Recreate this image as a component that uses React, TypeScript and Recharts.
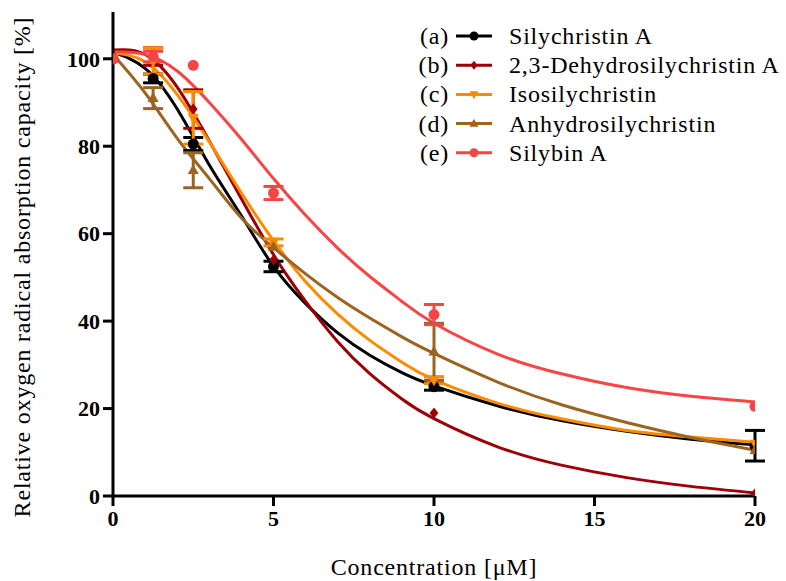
import React from 'react';
import { ComposedChart, Line, Scatter, ErrorBar, XAxis, YAxis } from 'recharts';

const curveX = [0, 1, 2, 3, 4, 5, 6, 7, 8, 9, 10, 12, 14, 16, 18, 20];
const silychristinFit = [101.5, 97.8, 88.5, 75.7, 64.1, 52.5, 44, 37.3, 32.2, 28.2, 25.2, 20.6, 17.2, 14.8, 13, 11.7];
const dehydroFit = [102, 101, 93.5, 81.2, 68, 55.2, 44.5, 35.3, 28, 22.2, 17.7, 11.2, 7, 4.2, 2.2, 0.7];
const isoFit = [101.3, 99.3, 91.8, 81, 69.3, 58.4, 49, 41.6, 35.6, 30.6, 26.6, 21.2, 17.6, 15, 13.5, 12.3];
const anhydroFit = [101, 92.2, 81.8, 72.6, 63.6, 56.8, 50.8, 45.4, 40.7, 36.4, 32.6, 26, 20.8, 16.8, 13.4, 10.5];
const silybinFit = [101.6, 101, 97.2, 90, 81.6, 72.6, 64.2, 56.7, 50.2, 44.5, 39.5, 32.4, 27.9, 24.8, 22.8, 21.5];

const pointX = [0, 1.25, 2.5, 5, 10, 20];
const silychristinPts = [100, 95.5, 80.5, 52.5, 25, 11.5];
const silychristinErr = [0, 1, 1.5, 1.2, 0.8, 3.5];
const dehydroPts = [100, 100.5, 88.5, 54, 19, 0.5];
const dehydroErr = [0, 2, 4.4, 0, 0, 0];
const isoPts = [100, 99.5, 86.5, 58, 26.5, 12];
const isoErr = [0, 3, 6, 0.8, 0.8, 0];
const anhydroPts = [100, 91, 74.5, 57, 33, 10.5];
const anhydroErr = [0, 2.4, 4, 0, 6.5, 0];
const silybinPts = [100, 100.5, 98.5, 69.3, 41.5, 20.5];
const silybinErr = [0, 1.2, 0, 1.5, 2.3, 0];

const xTicks = [0, 5, 10, 15, 20];
const yTicks = [0, 20, 40, 60, 80, 100];

const serif = 'Liberation Serif, Tinos, DejaVu Serif, Noto Serif, serif';

type Marker = 'circle' | 'diamond' | 'triangle' | 'triangleDown';

interface SeriesDef {
  key: string;
  tag: string;
  name: string;
  color: string;
  marker: Marker;
  fit: number[];
  pts: number[];
  err: number[];
}

const series: SeriesDef[] = [
  { key: 'a', tag: '(a)', name: 'Silychristin A', color: '#000000', marker: 'circle', fit: silychristinFit, pts: silychristinPts, err: silychristinErr },
  { key: 'b', tag: '(b)', name: '2,3-Dehydrosilychristin A', color: '#9c0006', marker: 'diamond', fit: dehydroFit, pts: dehydroPts, err: dehydroErr },
  { key: 'c', tag: '(c)', name: 'Isosilychristin', color: '#ff8a00', marker: 'triangleDown', fit: isoFit, pts: isoPts, err: isoErr },
  { key: 'd', tag: '(d)', name: 'Anhydrosilychristin', color: '#9b6420', marker: 'triangle', fit: anhydroFit, pts: anhydroPts, err: anhydroErr },
  { key: 'e', tag: '(e)', name: 'Silybin A', color: '#f74545', marker: 'circle', fit: silybinFit, pts: silybinPts, err: silybinErr },
];

function drawMarker(kind: Marker, cx: number, cy: number, color: string, s: number) {
  if (kind === 'circle') return <circle cx={cx} cy={cy} r={s} fill={color} />;
  if (kind === 'diamond')
    return <polygon points={`${cx},${cy - s} ${cx + s * 0.8},${cy} ${cx},${cy + s} ${cx - s * 0.8},${cy}`} fill={color} />;
  if (kind === 'triangle')
    return <polygon points={`${cx},${cy - s * 1.1} ${cx + s},${cy + s * 0.7} ${cx - s},${cy + s * 0.7}`} fill={color} />;
  return <polygon points={`${cx},${cy + s * 1.1} ${cx + s},${cy - s * 0.7} ${cx - s},${cy - s * 0.7}`} fill={color} />;
}

function Overlay() {
  const top = 36;
  const step = 29.2;
  const textProps = { fontFamily: serif, fontSize: 24, letterSpacing: 0.8, fill: '#000' };
  return (
    <svg width={786} height={581} style={{ position: 'absolute', left: 0, top: 0, pointerEvents: 'none' }}>
      {series.map((s, i) => {
        const y = top + i * step;
        return (
          <g key={s.key}>
            <text x={449} y={y} textAnchor="end" dominantBaseline="central" {...textProps}>
              {s.tag}
            </text>
            <line x1={456} x2={492} y1={y} y2={y} stroke={s.color} strokeWidth={3} />
            {drawMarker(s.marker, 474, y, s.color, 4.5)}
            <text x={509} y={y} dominantBaseline="central" {...textProps}>
              {s.name}
            </text>
          </g>
        );
      })}
      <text transform="translate(22, 267) rotate(-90)" textAnchor="middle" dominantBaseline="central" {...textProps}>
        Relative oxygen radical absorption capacity [%]
      </text>
      <text x={434} y={567} textAnchor="middle" dominantBaseline="central" {...textProps}>
        Concentration [μM]
      </text>
    </svg>
  );
}

export default function App() {
  return (
    <div style={{ position: 'absolute', left: 0, top: 0, width: 786, height: 581, background: '#fff' }}>
      <ComposedChart width={786} height={581} margin={{ top: 12, right: 31, bottom: 45, left: 53 }}>
        <XAxis
          dataKey="x"
          type="number"
          domain={[0, 20]}
          ticks={xTicks}
          height={40}
          axisLine={{ stroke: '#000', strokeWidth: 3 }}
          tickLine={{ stroke: '#000', strokeWidth: 3 }}
          tickSize={10}
          tickMargin={4}
          tick={{ fill: '#000', fontFamily: serif, fontWeight: 'bold', fontSize: 22 }}
          allowDataOverflow
        />
        <YAxis
          type="number"
          domain={[0, 110.7]}
          ticks={yTicks}
          width={60}
          axisLine={{ stroke: '#000', strokeWidth: 3 }}
          tickLine={{ stroke: '#000', strokeWidth: 3 }}
          tickSize={10}
          tickMargin={3}
          tick={{ fill: '#000', fontFamily: serif, fontWeight: 'bold', fontSize: 22 }}
          allowDataOverflow
        />
        {series.map((s) => (
          <Line
            key={`fit-${s.key}`}
            data={curveX.map((x, i) => ({ x, y: s.fit[i] }))}
            dataKey="y"
            type="natural"
            stroke={s.color}
            strokeWidth={3}
            dot={false}
            activeDot={false}
            isAnimationActive={false}
          />
        ))}
        {series.map((s) => (
          <Scatter
            key={`err-${s.key}`}
            data={pointX
              .map((x, i) => ({ x, y: s.pts[i], err: s.err[i] }))
              .filter((p) => p.err > 0)}
            dataKey="y"
            shape={() => <g />}
            isAnimationActive={false}
          >
            <ErrorBar dataKey="err" direction="y" width={10} strokeWidth={3} stroke={s.color} isAnimationActive={false} />
          </Scatter>
        ))}
        {series.map((s) => (
          <Scatter
            key={`pts-${s.key}`}
            data={pointX.map((x, i) => ({ x, y: s.pts[i] }))}
            dataKey="y"
            isAnimationActive={false}
            shape={(p: any) => drawMarker(s.marker, p.cx, p.cy, s.color, 5.5)}
          />
        ))}
      </ComposedChart>
      <Overlay />
    </div>
  );
}
